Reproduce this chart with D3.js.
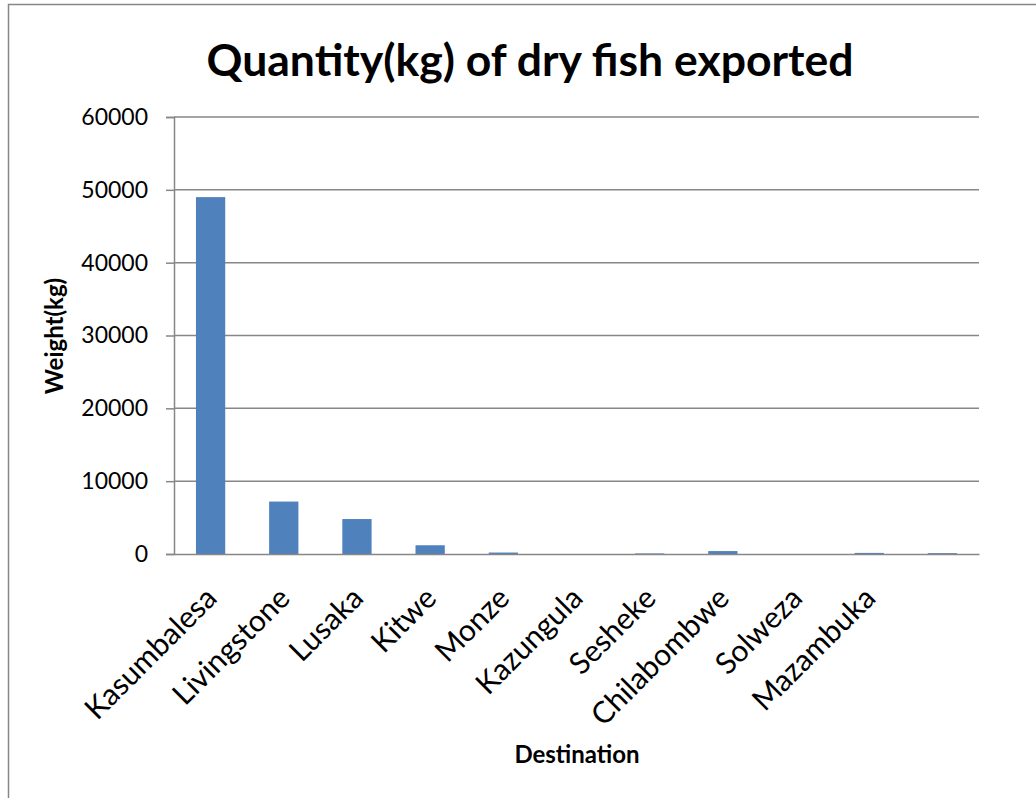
<!DOCTYPE html>
<html>
<head>
<meta charset="utf-8">
<script src="https://cdn.jsdelivr.net/npm/d3@7"></script>
<style>
  body { margin: 0; background: #fff; }
  svg { display: block; font-family: Lato, "Open Sans", sans-serif; }
</style>
</head>
<body>
<svg id="chart" width="1036" height="798"></svg>
<script>
// destinations (last slot has no label in the original)
const categories = ["Kasumbalesa", "Livingstone", "Lusaka", "Kitwe", "Monze", "Kazungula",
  "Sesheke", "Chilabombwe", "Solweza", "Mazambuka", " "];
const weights = [49000, 7200, 4800, 1200, 200, 0, 80, 400, 0, 150, 120];
const yTicks = [0, 10000, 20000, 30000, 40000, 50000, 60000];

const title = "Quantity(kg) of dry fish exported";
const xTitle = "Destination";
const yTitle = "Weight(kg)";

var svg = d3.select("#chart");

var margin = {top: 117, right: 57, bottom: 244, left: 174},
  width = 1036 - margin.left - margin.right,
  height = 798 - margin.top - margin.bottom;

// outer chart border (runs off the right/bottom edge)
svg.append("rect")
  .attr("x", 8.5)
  .attr("y", 4.5)
  .attr("width", 1100)
  .attr("height", 900)
  .attr("fill", "none")
  .attr("stroke", "#868686")
  .attr("stroke-width", 1.5);

svg.append("text")
  .attr("x", 530)
  .attr("y", 76)
  .attr("text-anchor", "middle")
  .attr("font-weight", "bold")
  .attr("font-size", 44.5)
  .attr("fill", "#000")
  .text(title);

var g = svg.append("g")
  .attr("transform", "translate(" + margin.left + "," + margin.top + ")");

var x = d3.scaleBand()
  .domain(categories)
  .range([0, width])
  .paddingInner(0.6)
  .paddingOuter(0.3);

var y = d3.scaleLinear()
  .domain([0, 60000])
  .range([height, 0]);

// gridlines
g.append("g")
  .selectAll("line")
  .data(yTicks.slice(1))
  .enter().append("line")
  .attr("x1", 0)
  .attr("x2", width)
  .attr("y1", function(d) { return y(d); })
  .attr("y2", function(d) { return y(d); })
  .attr("stroke", "#878787")
  .attr("stroke-width", 1.5);

// y axis
var yAxis = d3.axisLeft(y)
  .tickValues(yTicks)
  .tickSize(8)
  .tickPadding(18)
  .tickFormat(d3.format("d"));

var gy = g.append("g").call(yAxis);
gy.select(".domain").attr("stroke", "#878787").attr("stroke-width", 1.5);
gy.selectAll(".tick line").attr("stroke", "#878787").attr("stroke-width", 1.5);
gy.selectAll(".tick text")
  .attr("font-size", 23)
  .attr("font-family", "Lato, sans-serif")
  .attr("fill", "#000");

// bars
g.selectAll(".bar")
  .data(weights)
  .enter().append("rect")
  .attr("class", "bar")
  .attr("x", function(d, i) { return x(categories[i]); })
  .attr("width", x.bandwidth())
  .attr("y", function(d) { return y(d); })
  .attr("height", function(d) { return height - y(d); })
  .attr("fill", "#4F81BD");

// x axis line
var xAxis = d3.axisBottom(x).tickSize(0).tickFormat("");
var gx = g.append("g")
  .attr("transform", "translate(0," + height + ")")
  .call(xAxis);
gx.select(".domain").attr("stroke", "#878787").attr("stroke-width", 1.5);

// rotated category labels
g.append("g")
  .selectAll("text")
  .data(categories)
  .enter().append("text")
  .attr("transform", function(d) {
    return "translate(" + (x(d) + x.bandwidth() / 2 + 8) + "," + (height + 46) + ") rotate(-45)";
  })
  .attr("text-anchor", "end")
  .attr("font-size", 30)
  .attr("fill", "#000")
  .text(function(d) { return d; });

// axis titles
svg.append("text")
  .attr("x", 577)
  .attr("y", 763)
  .attr("text-anchor", "middle")
  .attr("font-weight", "bold")
  .attr("font-size", 24)
  .text(xTitle);

svg.append("text")
  .attr("transform", "translate(63,336) rotate(-90)")
  .attr("text-anchor", "middle")
  .attr("font-weight", "bold")
  .attr("font-size", 24)
  .text(yTitle);
</script>
</body>
</html>
